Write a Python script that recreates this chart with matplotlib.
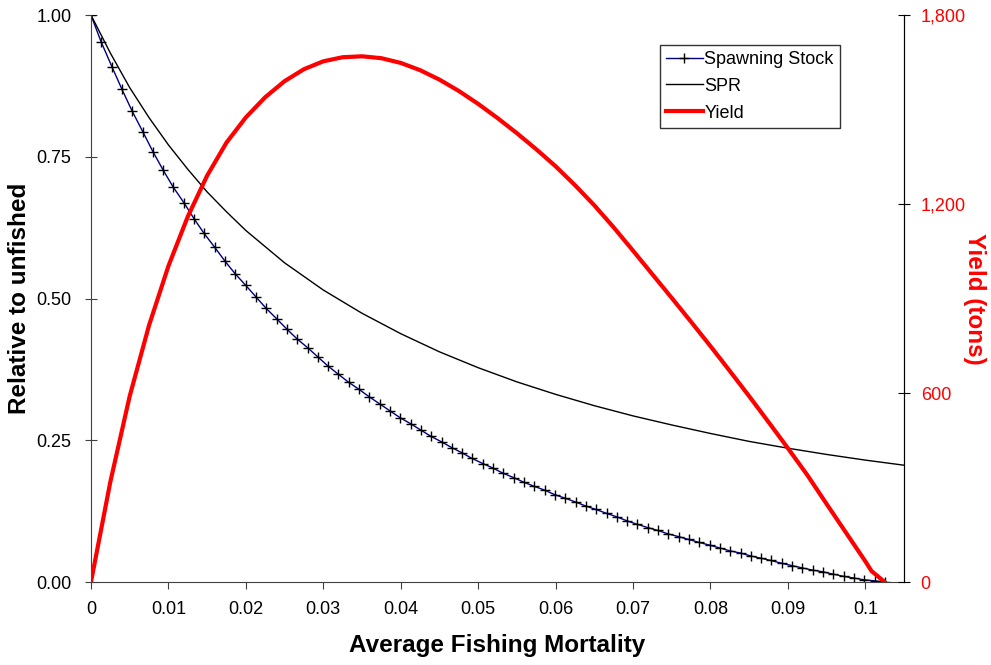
import matplotlib
matplotlib.use("Agg")
import matplotlib.pyplot as plt
from matplotlib.ticker import FuncFormatter

plt.rcParams['font.family'] = ['Liberation Sans', 'DejaVu Sans']

# fishing mortality grid of the spawning stock series
f_ssb = [0.0000, 0.0013, 0.0027, 0.0040, 0.0053, 0.0067, 0.0080, 0.0093, 0.0106, 0.0120,
         0.0133, 0.0146, 0.0160, 0.0173, 0.0186, 0.0200, 0.0213, 0.0226, 0.0240, 0.0253,
         0.0266, 0.0280, 0.0293, 0.0306, 0.0319, 0.0333, 0.0346, 0.0359, 0.0373, 0.0386,
         0.0399, 0.0413, 0.0426, 0.0439, 0.0453, 0.0466, 0.0479, 0.0492, 0.0506, 0.0519,
         0.0532, 0.0546, 0.0559, 0.0572, 0.0586, 0.0599, 0.0612, 0.0626, 0.0639, 0.0652,
         0.0666, 0.0679, 0.0692, 0.0705, 0.0719, 0.0732, 0.0745, 0.0759, 0.0772, 0.0785,
         0.0799, 0.0812, 0.0825, 0.0839, 0.0852, 0.0865, 0.0878, 0.0892, 0.0905, 0.0918,
         0.0932, 0.0945, 0.0958, 0.0972, 0.0985, 0.0998, 0.1012, 0.1025]
ssb = [1.000, 0.953, 0.909, 0.869, 0.831, 0.794, 0.759, 0.727, 0.697, 0.669,
       0.641, 0.615, 0.590, 0.566, 0.544, 0.523, 0.503, 0.483, 0.464, 0.446,
       0.429, 0.413, 0.397, 0.381, 0.367, 0.352, 0.340, 0.327, 0.314, 0.302,
       0.290, 0.279, 0.268, 0.257, 0.247, 0.237, 0.228, 0.218, 0.209, 0.201,
       0.192, 0.184, 0.176, 0.169, 0.162, 0.154, 0.148, 0.141, 0.134, 0.128,
       0.121, 0.115, 0.108, 0.102, 0.096, 0.091, 0.085, 0.080, 0.075, 0.070,
       0.065, 0.060, 0.055, 0.051, 0.046, 0.042, 0.038, 0.033, 0.029, 0.025,
       0.021, 0.018, 0.014, 0.010, 0.007, 0.004, 0.002, 0.000]

f_spr = [0.0, 0.0025, 0.005, 0.0075, 0.01, 0.0125, 0.015, 0.0175, 0.02, 0.025,
         0.03, 0.035, 0.04, 0.045, 0.05, 0.055, 0.06, 0.065, 0.07, 0.075,
         0.08, 0.085, 0.09, 0.095, 0.1, 0.105]
spr = [1.000, 0.933, 0.872, 0.819, 0.771, 0.728, 0.688, 0.653, 0.620, 0.563,
       0.515, 0.474, 0.438, 0.406, 0.378, 0.353, 0.331, 0.311, 0.293, 0.277,
       0.262, 0.248, 0.236, 0.225, 0.215, 0.206]

f_yield = [0.0, 0.0025, 0.005, 0.0075, 0.01, 0.0125, 0.015, 0.0175, 0.02, 0.0225,
           0.025, 0.0275, 0.03, 0.0325, 0.035, 0.0375, 0.04, 0.0425, 0.045, 0.0475,
           0.05, 0.0525, 0.055, 0.0575, 0.06, 0.0625, 0.065, 0.0675, 0.07, 0.0725,
           0.075, 0.0775, 0.08, 0.0825, 0.085, 0.0875, 0.09, 0.0925, 0.095, 0.0975,
           0.1, 0.1008, 0.1025]
yield_t = [0, 318, 590, 815, 1003, 1160, 1290, 1395, 1475, 1539,
           1590, 1628, 1653, 1666, 1669, 1663, 1648, 1625, 1595, 1559,
           1518, 1473, 1425, 1374, 1320, 1260, 1196, 1126, 1052, 977,
           902, 826, 749, 670, 590, 508, 425, 340, 248, 157,
           66, 35, 0]

fig = plt.figure(figsize=(9.91, 6.65), dpi=100)
ax = fig.add_axes([0.0918, 0.1248, 0.8204, 0.8526])
ax2 = ax.twinx()

l1, = ax.plot(f_ssb, ssb, color='#000080', lw=1, marker='+', ms=7,
              mec='black', mew=1, label='Spawning Stock')
l2, = ax.plot(f_spr, spr, color='black', lw=1, label='SPR')
l3, = ax2.plot(f_yield, yield_t, color='red', lw=3, label='Yield')

ax.set_xlim(0, 0.105)
ax.set_ylim(0, 1)
ax2.set_ylim(0, 1800)
ax.set_xticks([0, 0.01, 0.02, 0.03, 0.04, 0.05, 0.06, 0.07, 0.08, 0.09, 0.1])
ax.set_xticklabels(['0', '0.01', '0.02', '0.03', '0.04', '0.05', '0.06',
                    '0.07', '0.08', '0.09', '0.1'])
ax.set_yticks([0, 0.25, 0.5, 0.75, 1.0])
ax.set_yticklabels(['0.00', '0.25', '0.50', '0.75', '1.00'])
ax2.set_yticks([0, 600, 1200, 1800])
ax2.yaxis.set_major_formatter(FuncFormatter(lambda v, p: '{:,.0f}'.format(v)))

for a in (ax, ax2):
    a.spines['top'].set_visible(False)
ax.spines['left'].set_color('#404040')
ax.spines['bottom'].set_color('#404040')
ax2.spines['left'].set_visible(False)
ax2.spines['bottom'].set_visible(False)

ax.tick_params(axis='x', direction='out', length=5, pad=9, labelsize=13, color='#404040')
ax.tick_params(axis='y', direction='inout', length=8, pad=10, labelsize=13, color='#404040')
ax2.tick_params(axis='y', direction='inout', length=8, pad=8, labelsize=13,
                labelcolor='red', color='black')

ax.set_xlabel('Average Fishing Mortality', fontsize=17.5, fontweight='bold', labelpad=11)
ax.set_ylabel('Relative to unfished', fontsize=17.5, fontweight='bold', labelpad=4)
ax2.set_ylabel('Yield (tons)', fontsize=17.5, fontweight='bold', color='red',
               rotation=270, va='center', ha='center')
ax2.yaxis.set_label_coords(1.087, 0.5)

leg = ax2.legend(handles=[l1, l2, l3], loc='upper left', bbox_to_anchor=(0.700, 0.948),
                 fontsize=13, frameon=True, fancybox=False, edgecolor='black',
                 handlelength=2.0, handletextpad=0.1, borderpad=0.35,
                 labelspacing=0.55, borderaxespad=0)
leg.get_frame().set_linewidth(1)

fig.savefig('out.png', dpi=100)
